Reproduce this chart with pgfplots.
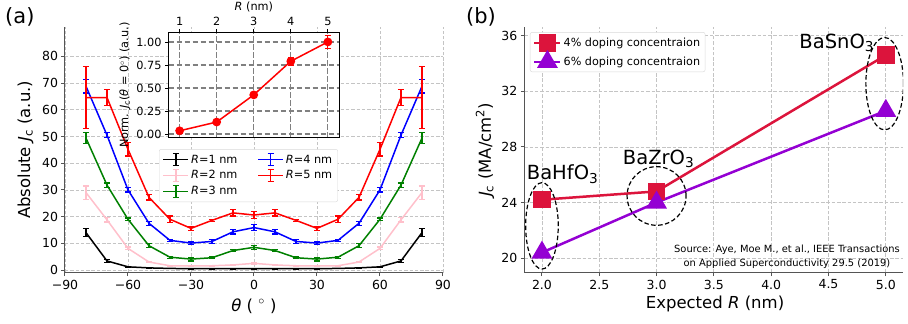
\documentclass[border=0pt]{standalone}
\usepackage{fontspec}
\setmainfont{DejaVu Sans}
\usepackage{pgfplots}
\pgfplotsset{compat=1.18}
\usepackage{pgfplotstable}

\definecolor{mplpink}{HTML}{FFC0CB}
\definecolor{mplgreen}{HTML}{008000}
\definecolor{mplblue}{HTML}{0000FF}
\definecolor{mplred}{HTML}{FF0000}
\definecolor{crimson}{HTML}{DC143C}
\definecolor{darkviolet}{HTML}{9400D3}
\definecolor{gridgray}{HTML}{C4C4C4}
\definecolor{spinegray}{HTML}{555555}

\pgfplotstableread{
x y e
-80 14 1.5
-70 3.4 0.6
-60 1.2 0.2
-50 0.8 0.15
-40 0.6 0.1
-30 0.5 0.1
-20 0.5 0.1
-10 0.5 0.1
0 0.5 0.1
10 0.5 0.1
20 0.5 0.1
30 0.5 0.1
40 0.6 0.1
50 0.8 0.15
60 1.2 0.2
70 3.4 0.6
80 14 1.5
}\Rone
\pgfplotstableread{
x y e
-80 29 2.5
-70 18.8 0.8
-60 8.1 0.5
-50 3 0.3
-40 1.6 0.2
-30 1.6 0.2
-20 1.6 0.2
-10 1.9 0.3
0 2.5 0.3
10 1.9 0.3
20 1.6 0.2
30 1.6 0.2
40 1.6 0.2
50 3 0.3
60 8.1 0.5
70 18.8 0.8
80 29 2.5
}\Rtwo
\pgfplotstableread{
x y e
-80 49.4 2
-70 31.8 0.8
-60 19 0.5
-50 9.1 0.8
-40 4.8 0.4
-30 4.1 0.7
-20 4.6 0.3
-10 7.3 0.3
0 8.5 0.7
10 7.3 0.3
20 4.6 0.3
30 4.1 0.7
40 4.8 0.4
50 9.1 0.8
60 19 0.5
70 31.8 0.8
80 49.4 2
}\Rthree
\pgfplotstableread{
x y e
-80 68.8 2.5
-70 50.5 1
-60 30 0.8
-50 17.5 0.8
-40 11.1 0.4
-30 10.1 0.6
-20 10.7 0.8
-10 14.3 0.8
0 15.9 1.2
10 14.3 0.8
20 10.7 0.8
30 10.1 0.6
40 11.1 0.4
50 17.5 0.8
60 30 0.8
70 50.5 1
80 68.8 2.5
}\Rfour
\pgfplotstableread{
x y e
-80 64.6 11.6
-70 64.6 2.9
-60 45.2 2.5
-50 27.2 1
-40 19 1.2
-30 15.6 0.8
-20 18.6 0.4
-10 21.4 1.2
0 20.6 1.3
10 21.4 1.2
20 18.6 0.4
30 15.6 0.8
40 19 1.2
50 27.2 1
60 45.2 2.5
70 64.6 2.9
80 64.6 11.6
}\Rfive
\pgfplotstableread{
x y e
1 0.035 0.012
2 0.13 0.015
3 0.425 0.02
4 0.79 0.045
5 1.0 0.07
}\Norm
\pgfplotstableread{
x y
2 24.2
3 24.8
5 34.6
}\Four
\pgfplotstableread{
x y
2 20.4
3 24.0
5 30.6
}\Six

\begin{document}
\begin{tikzpicture}
\useasboundingbox (0pt,0pt) rectangle (908pt,324pt);

% ---------------- panel (a) main axis
\begin{axis}[
  at={(65pt,51.3pt)}, anchor=south west,
  scale only axis, width=378pt, height=245.7pt,
  xmin=-90, xmax=90, ymin=-1, ymax=91,
  xtick={-90,-60,-30,0,30,60,90},
  xticklabels={−90,−60,−30,0,30,60,90},
  ytick={0,10,...,80},
  axis x line*=bottom, axis y line*=left,
  axis line style={-, draw=spinegray, line width=1pt},
  tick style={draw=spinegray, line width=1pt},
  tick align=outside, major tick length=3.5pt,
  grid=major,
  major grid style={gridgray, line width=0.8pt, dash pattern=on 3.5pt off 1.8pt},
  tick label style={font=\fontsize{12.5}{15}\selectfont},
  /pgf/number format/assume math mode=true,
  label style={font=\fontsize{16.5}{19}\selectfont},
  xlabel={\textit{θ} ( $^\circ$ )},
  ylabel={Absolute \textit{J}\textsubscript{c} (a.u.)},
  xlabel style={at={(axis description cs:0.5,-0.1355)}, anchor=center},
  ylabel style={at={(axis description cs:-0.1045,0.5)}, anchor=center},
  error bars/error bar style={line width=1.2pt},
  error bars/error mark options={rotate=90, mark size=3pt, line width=1.2pt},
  legend image code/.code={
    \draw[#1] (0pt,0pt) -- (25pt,0pt);
    \draw[#1] (12.5pt,-6pt) -- (12.5pt,6pt);
    \draw[#1] (9.5pt,-6pt) -- (15.5pt,-6pt);
    \draw[#1] (9.5pt,6pt) -- (15.5pt,6pt);
  },
  legend columns=2,
  legend style={at={(0.2487,0.503)}, anchor=north west,
    draw=black!15, rounded corners=2pt, fill=white,
    font=\fontsize{11.3}{13}\selectfont, inner sep=3.5pt, row sep=2pt,
    /tikz/every even column/.append style={column sep=18pt}},
  legend cell align=left,
]
\addplot[black, line width=1.5pt, error bars/.cd, y dir=both, y explicit] table[x=x,y=y,y error=e] {\Rone};
\addlegendentry{\textit{R}=1 nm}
\addplot[mplblue, line width=1.5pt, error bars/.cd, y dir=both, y explicit] table[x=x,y=y,y error=e] {\Rfour};
\addlegendentry{\textit{R}=4 nm}
\addplot[mplpink, line width=1.5pt, error bars/.cd, y dir=both, y explicit] table[x=x,y=y,y error=e] {\Rtwo};
\addlegendentry{\textit{R}=2 nm}
\addplot[mplred, line width=1.5pt, error bars/.cd, y dir=both, y explicit] table[x=x,y=y,y error=e] {\Rfive};
\addlegendentry{\textit{R}=5 nm}
\addplot[mplgreen, line width=1.5pt, error bars/.cd, y dir=both, y explicit] table[x=x,y=y,y error=e] {\Rthree};
\addlegendentry{\textit{R}=3 nm}
\end{axis}

% ---------------- inset
\begin{axis}[
  at={(168.5pt,186.3pt)}, anchor=south west,
  scale only axis, width=170.5pt, height=105pt,
  xmin=0.7, xmax=5.3, ymin=-0.04, ymax=1.1,
  xtick={1,2,3,4,5}, ytick={0,0.25,0.5,0.75,1},
  yticklabel style={/pgf/number format/.cd, fixed, fixed zerofill, precision=2},
  xtick pos=right, xticklabel pos=right, ytick pos=left,
  tick align=outside, major tick length=3.5pt,
  axis line style={black, line width=0.8pt},
  tick style={black, line width=0.8pt},
  grid=major,
  major grid style={gray, line width=1.2pt, dash pattern=on 5.5pt off 2.5pt},
  axis background/.style={fill=white},
  tick label style={font=\fontsize{11.3}{13}\selectfont},
  /pgf/number format/assume math mode=true,
  label style={font=\fontsize{11.3}{13}\selectfont},
  xlabel={\textit{R} (nm)},
  ylabel={Norm. \textit{J}\textsubscript{c}(\textit{θ} = 0$^\circ$) (a.u.)},
  xlabel style={at={(axis description cs:0.501,1.245)}, anchor=center},
  ylabel style={at={(axis description cs:-0.255,0.5)}, anchor=center},
]
\addplot[mplred, line width=1.5pt, mark=*, mark size=3.6pt,
  error bars/.cd, y dir=both, y explicit,
  error bar style={line width=1.2pt},
  error mark options={rotate=90, mark size=3pt, line width=1.2pt}]
  table[x=x,y=y,y error=e] {\Norm};
\end{axis}

% ---------------- panel (b)
\begin{axis}[
  at={(524.3pt,51.3pt)}, anchor=south west,
  scale only axis, width=378.7pt, height=246pt,
  xmin=1.846, xmax=5.15, ymin=18.95, ymax=36.65,
  xtick={2,2.5,3,3.5,4,4.5,5},
  ytick={20,24,28,32,36},
  xticklabel style={/pgf/number format/.cd, fixed, fixed zerofill, precision=1},
  axis x line*=bottom, axis y line*=left,
  axis line style={-, draw=spinegray, line width=1pt},
  tick style={draw=spinegray, line width=1pt},
  tick align=outside, major tick length=3.5pt,
  grid=major,
  major grid style={gridgray, line width=0.8pt, dash pattern=on 3.5pt off 1.8pt},
  tick label style={font=\fontsize{12.5}{15}\selectfont},
  /pgf/number format/assume math mode=true,
  label style={font=\fontsize{16.5}{19}\selectfont},
  xlabel={Expected \textit{R} (nm)},
  ylabel={\textit{J}\textsubscript{c} (MA/cm\textsuperscript{2})},
  xlabel style={at={(axis description cs:0.5036,-0.1285)}, anchor=center},
  ylabel style={at={(axis description cs:-0.1038,0.499)}, anchor=center},
  legend image code/.code={
    \draw[#1, mark=none] (0pt,0pt) -- (26pt,0pt);
    \draw[#1, only marks] plot coordinates {(13pt,0pt)};
  },
  legend style={at={(0.015,0.978)}, anchor=north west,
    draw=black!15, rounded corners=2pt, fill=white,
    font=\fontsize{11.2}{13}\selectfont, inner sep=3pt, row sep=2pt},
  legend cell align=left,
]
\addplot[crimson, line width=2.5pt, mark=square*, mark size=7.5pt] table[x=x,y=y] {\Four};
\addlegendentry{4\% doping concentraion}
\addplot[darkviolet, line width=2.5pt, mark=triangle*, mark size=9.5pt] table[x=x,y=y] {\Six};
\addlegendentry{6\% doping concentraion}
\draw[black, line width=1.2pt, dash pattern=on 4.5pt off 2.5pt] (axis cs:2,22.32) ellipse [x radius=16.3pt, y radius=43.2pt];
\draw[black, line width=1.2pt, dash pattern=on 4.5pt off 2.5pt] (axis cs:3,24.47) ellipse [x radius=29.5pt, y radius=29.3pt];
\draw[black, line width=1.2pt, dash pattern=on 4.5pt off 2.5pt] (axis cs:4.99,32.55) ellipse [x radius=18.8pt, y radius=46.2pt];
\node[anchor=base west, inner sep=0pt, font=\fontsize{19.5}{22}\selectfont] at (axis cs:1.867,25.62) {BaHfO\textsubscript{3}};
\node[anchor=base west, inner sep=0pt, font=\fontsize{19.5}{22}\selectfont] at (axis cs:2.705,26.77) {BaZrO\textsubscript{3}};
\node[anchor=base west, inner sep=0pt, font=\fontsize{19.5}{22}\selectfont] at (axis cs:4.245,35.11) {BaSnO\textsubscript{3}};
\node[align=center, inner sep=0pt, font=\fontsize{9.9}{14}\selectfont] at (axis cs:4.138,20.07) {Source: Aye, Moe M., et al., IEEE Transactions\\on Applied Superconductivity 29.5 (2019)};
\end{axis}

\node[anchor=west, inner sep=0pt, font=\fontsize{21}{24}\selectfont] at (5pt,307pt) {(a)};
\node[anchor=west, inner sep=0pt, font=\fontsize{21}{24}\selectfont] at (466pt,307pt) {(b)};
\end{tikzpicture}
\end{document}
